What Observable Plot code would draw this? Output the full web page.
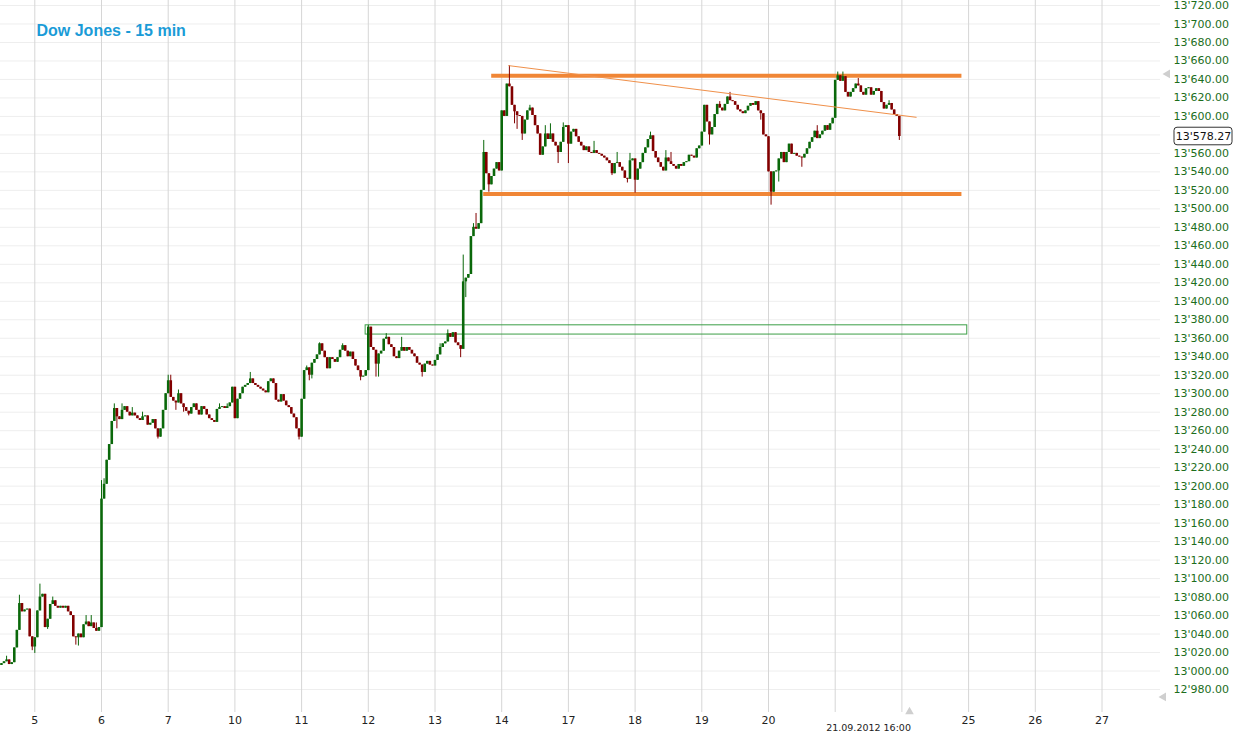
<!DOCTYPE html>
<html><head><meta charset="utf-8">
<script src="https://cdn.jsdelivr.net/npm/d3@7"></script>
<script src="https://cdn.jsdelivr.net/npm/@observablehq/plot@0.6"></script>
<style>
html,body{margin:0;padding:0;background:#fff;}
#chart svg{display:block;}
</style></head><body><div id="chart"></div>
<script>
// ---------- text ----------
const title = "Dow Jones - 15 min";
const dayLabels = ["5","6","7","10","11","12","13","14","17","18","19","20","21","24","25","26","27"];
const hiddenDayLabels = ["21","24"];
const cursorLabel = "21.09.2012 16:00";
const yTicks = [12980,13000,13020,13040,13060,13080,13100,13120,13140,13160,13180,13200,13220,13240,13260,13280,13300,13320,13340,13360,13380,13400,13420,13440,13460,13480,13500,13520,13540,13560,13580,13600,13620,13640,13660,13680,13700,13720];
const lastPrice = 13578.27;

// ---------- 15-min closes per session (day index: 4 Sep = -1, 5 Sep = 0 ...) ----------
const sessionDays = ["4","5","6","7","10","11","12","13","14","17","18","19","20","21"];
const sessionIndex = [-1,0,1,2,3,4,5,6,7,8,9,10,11,12];
const sessionFirstBar = [13,0,0,0,0,0,0,0,0,0,0,0,0,0];
const firstOpen = 13006;
const sep04 = [13008,13010,13012,13007,13009,13025,13044,13073,13064,13066,13067,13037,13026];
const sep05 = [13036,13065,13080,13083,13047,13056,13072,13076,13070,13068,13070,13068,13070,13064,13060,13037,13036,13040,13036,13050,13053,13048,13052,13046,13043,13047];
const sep06 = [13186,13202,13228,13245,13270,13284,13275,13272,13282,13286,13280,13276,13279,13276,13273,13271,13275,13276,13266,13268,13272,13262,13253,13262,13282,13300];
const sep07 = [13314,13296,13292,13290,13300,13289,13285,13281,13278,13285,13289,13282,13277,13286,13283,13277,13273,13271,13269,13283,13285,13286,13284,13286,13290,13307];
const sep10 = [13273,13294,13300,13307,13309,13311,13316,13311,13309,13307,13305,13303,13301,13313,13316,13311,13293,13291,13299,13292,13287,13285,13278,13274,13262,13253];
const sep11 = [13294,13325,13328,13320,13333,13337,13342,13354,13346,13339,13327,13339,13337,13334,13339,13347,13352,13346,13340,13345,13337,13330,13325,13318,13319,13325];
const sep12 = [13372,13350,13347,13332,13343,13346,13359,13361,13353,13350,13340,13338,13346,13350,13346,13350,13347,13343,13340,13333,13331,13323,13332,13335,13331,13330];
const sep13 = [13336,13342,13350,13354,13356,13365,13361,13366,13355,13352,13348,13421,13425,13429,13470,13480,13478,13484,13520,13561,13538,13526,13535,13543,13550,13541];
const sep14 = [13606,13600,13635,13632,13612,13605,13601,13600,13581,13596,13606,13609,13601,13590,13581,13558,13567,13581,13575,13581,13572,13568,13561,13572,13588,13590];
const sep17 = [13570,13583,13586,13578,13572,13568,13563,13567,13561,13560,13563,13560,13559,13557,13555,13552,13549,13538,13549,13550,13545,13541,13533,13532,13552,13554];
const sep18 = [13531,13543,13550,13560,13566,13575,13579,13562,13555,13550,13545,13541,13555,13551,13548,13546,13543,13548,13546,13550,13551,13558,13557,13555,13565,13568];
const sep19 = [13583,13612,13594,13580,13588,13602,13613,13609,13606,13613,13621,13617,13616,13612,13607,13605,13603,13606,13611,13614,13612,13616,13606,13603,13580,13578];
const sep20 = [13540,13518,13540,13541,13554,13561,13550,13561,13570,13559,13560,13557,13556,13555,13559,13565,13572,13577,13584,13576,13580,13584,13590,13585,13592,13598];
const sep21 = [13639,13644,13638,13643,13626,13621,13626,13630,13635,13633,13626,13623,13630,13631,13623,13627,13630,13627,13615,13608,13612,13614,13607,13602,13600,13578.27];
const sessionCloses = [sep04,sep05,sep06,sep07,sep10,sep11,sep12,sep13,sep14,sep17,sep18,sep19,sep20,sep21];

// notable wick extremes: [day, bar, value]
const wickHighs = [["4",15,13016],["4",20,13082],["5",2,13094],["5",7,13080],["5",20,13060],["5",22,13060],["5",24,13052],
 ["6",0,13206],["6",1,13208],["6",5,13289],["6",8,13289],["6",12,13285],["6",16,13280],
 ["7",0,13320],["7",1,13320],["7",4,13304],["7",20,13289],["7",23,13289],["10",6,13323],
 ["11",2,13330],["11",7,13355],["11",16,13354],["12",0,13374],["12",7,13365],["12",13,13361],
 ["13",2,13354],["13",5,13369],["13",11,13450],["13",15,13484],["13",16,13495],["13",19,13574],
 ["14",3,13655],["14",11,13612],["14",17,13590],["14",19,13592],["14",24,13593],
 ["17",10,13573],["17",19,13561],["17",24,13560],["18",6,13583],["18",12,13563],["18",14,13561],
 ["19",7,13616],["19",11,13626],["20",19,13590],["21",1,13648],["21",3,13648],["21",9,13641],["21",21,13617]];
const wickLows = [["4",25,13022],["5",0,13019],["5",5,13045],["5",16,13028],["5",17,13027],
 ["6",6,13262],["6",22,13251],["7",3,13282],["7",6,13280],["7",8,13276],["10",25,13250],
 ["11",3,13314],["11",4,13316],["11",23,13314],["12",3,13318],["12",4,13318],["12",21,13318],
 ["13",10,13339],["13",12,13404],["13",21,13518],["14",5,13592],["14",6,13586],["14",8,13574],["14",22,13549],
 ["17",0,13549],["17",17,13536],["17",23,13528],["18",0,13517],["19",3,13569],["19",23,13596],
 ["20",1,13504],["20",4,13529],["20",13,13545],["21",25,13574]];

// ---------- drawn studies ----------
const resistanceLevel = 13644, resistanceFrom = 6.85, resistanceTo = 13.9;
const supportLevel = 13516, supportFrom = 6.73, supportTo = 13.9;
const trendStart = [7.10, 13655], trendEnd = [13.22, 13599];
const zoneLow = 13364, zoneHigh = 13374, zoneFrom = 4.96, zoneTo = 13.98;

// ---------- build candles ----------
const barsPerDay = 26;
const bars = [];
let prev = firstOpen;
sessionCloses.forEach((closes, s) => {
  closes.forEach((c, k) => {
    const j = sessionFirstBar[s] + k;
    const o = prev;
    bars.push({day: sessionDays[s], j, t: sessionIndex[s] + j / barsPerDay, o, c, h: Math.max(o, c), l: Math.min(o, c)});
    prev = c;
  });
});
const find = (d, j) => bars.find(b => b.day === d && b.j === j);
wickHighs.forEach(([d, j, v]) => { const b = find(d, j); if (b) b.h = Math.max(b.h, v); });
wickLows.forEach(([d, j, v]) => { const b = find(d, j); if (b) b.l = Math.min(b.l, v); });

const UP = "#0a680a", DOWN = "#820000";
const col = b => b.c >= b.o ? UP : DOWN;
const fmt = v => d3.format(",.2f")(v).replace(/,/g, "'");
const xs = d3.scaleLinear().domain([0, 16]).range([34.3, 1101.5]);
const dayIdx = dayLabels.map((d, i) => i);
const shownDays = dayLabels.map((d, i) => ({d, i})).filter(o => !hiddenDayLabels.includes(o.d));
const markers = [
  {t: xs.invert(1167), v: 13646, r: -90},
  {t: xs.invert(1163), v: 12972, r: -90},
  {t: xs.invert(909), v: 12956, r: 0}
];

const chart = Plot.plot({
  width: 1237, height: 733,
  marginLeft: 0, marginRight: 77, marginTop: 0, marginBottom: 21,
  style: {fontFamily: "DejaVu Sans, Verdana, sans-serif", background: "#fff"},
  x: {type: "linear", domain: [0, 16], range: [34.3, 1101.5], axis: null},
  y: {type: "linear", domain: [12980, 13720], range: [689, 5], axis: null},
  marks: [
    Plot.ruleY(yTicks, {stroke: "#eeeeee"}),
    Plot.ruleX(dayIdx, {stroke: "#d6d6d6"}),
    Plot.rect([0], {x1: zoneFrom, x2: zoneTo, y1: zoneLow, y2: zoneHigh, fill: "none", stroke: "#3b9e46", strokeWidth: 1}),
    Plot.ruleY([supportLevel], {x1: supportFrom, x2: supportTo, stroke: "#f08636", strokeWidth: 4}),
    Plot.ruleY([resistanceLevel], {x1: resistanceFrom, x2: resistanceTo, stroke: "#f08636", strokeWidth: 4}),
    Plot.ruleX(bars, {x: "t", y1: "l", y2: "h", stroke: col, strokeWidth: 1}),
    Plot.ruleX(bars, {x: "t", y1: "o", y2: "c", stroke: col, strokeWidth: 2.6}),
    Plot.link([0], {x1: trendStart[0], y1: trendStart[1], x2: trendEnd[0], y2: trendEnd[1], stroke: "#f0904a", strokeWidth: 1}),
    Plot.text(yTicks.filter(v => Math.abs(v - lastPrice) > 10), {y: d => d, frameAnchor: "right", textAnchor: "start", dx: 13, text: fmt, fill: "#1c6e1c", fontSize: 11}),
    Plot.rect([lastPrice], {x1: xs.invert(1174), x2: xs.invert(1232), y1: d => d - 9.5, y2: d => d + 9.5, fill: "#fff", stroke: "#333", rx: 3}),
    Plot.text([lastPrice], {y: d => d, x: xs.invert(1203), text: fmt, fill: "#111", fontSize: 11}),
    Plot.text(shownDays, {x: "i", frameAnchor: "bottom", lineAnchor: "middle", dy: 8, text: "d", fill: "#222", fontSize: 11}),
    Plot.text([cursorLabel], {x: 12.5, frameAnchor: "bottom", lineAnchor: "middle", dy: 15, text: d => d, fill: "#222", fontSize: 9.5}),
    Plot.dot(markers, {x: "t", y: "v", symbol: "triangle", r: 3.2, fill: "#cfcfcf", stroke: "none", rotate: "r"}),
    Plot.text([title], {frameAnchor: "top-left", lineAnchor: "middle", dx: 36, dy: 30, text: d => d, fill: "#1a9bd7", fontSize: 16, fontWeight: "bold", fontFamily: "Liberation Sans, Arial, sans-serif", textAnchor: "start"})
  ]
});
document.getElementById("chart").appendChild(chart);
</script></body></html>
